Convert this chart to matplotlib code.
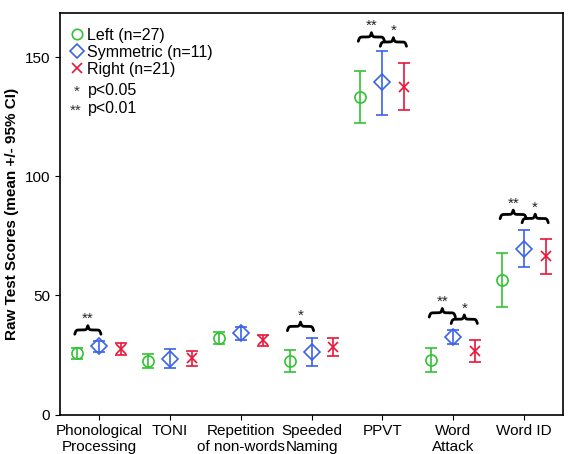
import numpy as np
import matplotlib
matplotlib.use('Agg')
import matplotlib.pyplot as plt
from matplotlib.lines import Line2D

plt.rcParams['font.family'] = ['Liberation Sans', 'DejaVu Sans']

tests = ['Phonological\nProcessing', 'TONI', 'Repetition\nof non-words', 'Speeded\nNaming',
         'PPVT', 'Word\nAttack', 'Word ID']

# mean, lower CI, upper CI per group
left_mean = [25.7, 22.6, 32.2, 22.6, 133.4, 22.7, 56.3]
left_lo = [23.3, 19.6, 29.7, 17.8, 122.4, 18.0, 45.0]
left_hi = [27.9, 25.4, 34.7, 27.2, 144.1, 27.8, 67.6]

sym_mean = [28.7, 23.4, 34.1, 26.4, 139.4, 32.6, 69.6]
sym_lo = [26.2, 19.4, 31.1, 20.4, 125.8, 29.7, 61.8]
sym_hi = [30.8, 27.4, 36.8, 32.2, 152.7, 35.5, 77.4]

right_mean = [27.5, 23.7, 31.3, 28.5, 137.6, 26.6, 66.5]
right_lo = [25.0, 20.4, 28.9, 24.4, 127.9, 21.9, 59.1]
right_hi = [30.1, 26.8, 33.5, 32.2, 147.5, 31.4, 73.6]

# significance brackets: (test index, from group, to group, bracket y, stars)
sig = [(0, 0, 1, 35.5, '**'), (3, 0, 1, 37.0, '*'),
       (4, 0, 1, 158.5, '**'), (4, 1, 2, 156.4, '*'),
       (5, 0, 1, 42.7, '**'), (5, 1, 2, 40.0, '*'),
       (6, 0, 1, 84.0, '**'), (6, 1, 2, 82.3, '*')]

green = '#33c233'
blue = '#3a63e8'
red = '#e8173a'
off = 0.31

fig = plt.figure(figsize=(5.7, 4.54), dpi=100)
ax = fig.add_axes([0.105, 0.087, 0.883, 0.884])

x = np.arange(len(tests))
groups = [(left_mean, left_lo, left_hi, green, 'o', 8, -off),
          (sym_mean, sym_lo, sym_hi, blue, 'D', 8, 0),
          (right_mean, right_lo, right_hi, red, 'x', 7, off)]
for m, lo, hi, c, mk, ms, dx in groups:
    m = np.array(m); lo = np.array(lo); hi = np.array(hi)
    ax.errorbar(x + dx, m, yerr=[m - lo, hi - m], fmt=mk, color=c, mfc='none',
                mec=c, ms=ms, mew=1.2, elinewidth=1.2, capsize=4, capthick=1.2)


def brace(ax, x0, x1, y, h=3.6):
    half = np.linspace(0, (x1 - x0) / 2, 100)
    beta = 40.0 / (x1 - x0)
    yh = 1 / (1 + np.exp(-beta * (half - half[0]))) + 1 / (1 + np.exp(-beta * (half - half[-1])))
    yy = np.concatenate((yh, yh[-2::-1]))
    xx = np.concatenate((x0 + half, x0 + half[-1] + half[1:]))
    yy = (yy - yy.min()) / (yy.max() - yy.min())
    ax.plot(xx, y - h / 2 + yy * h, color='black', lw=2.0, solid_capstyle='round')


for t, g0, g1, yb, st in sig:
    xs = [t - off, t, t + off]
    brace(ax, xs[g0] - 0.03, xs[g1] + 0.03, yb)
    ax.text((xs[g0] + xs[g1]) / 2, yb + 1.6, st, ha='center', va='bottom', fontsize=11,
            color='#222222')

ax.set_xlim(-0.55, 6.55)
ax.set_ylim(0, 168.5)
ax.set_yticks([0, 50, 100, 150])
ax.set_xticks(x)
ax.set_xticklabels(tests, fontsize=11)
ax.tick_params(axis='y', labelsize=11)
ax.set_ylabel('Raw Test Scores (mean +/- 95% CI)', fontsize=11, fontweight='bold')
for s in ax.spines.values():
    s.set_linewidth(1.2)

handles = [Line2D([], [], ls='none', marker='o', mfc='none', mec=green, ms=7.5, mew=1.2),
           Line2D([], [], ls='none', marker='D', mfc='none', mec=blue, ms=7.5, mew=1.2),
           Line2D([], [], ls='none', marker='x', color=red, ms=7, mew=1.2)]
ax.legend(handles, ['Left (n=27)', 'Symmetric (n=11)', 'Right (n=21)'], loc='upper left',
          frameon=False, fontsize=11.5, handlelength=0.6, handletextpad=0.3,
          labelspacing=0.12, borderaxespad=0.4, bbox_to_anchor=(0.0, 0.995))
ax.text(0.034, 0.805, '*', transform=ax.transAxes, fontsize=11, va='center', ha='center',
        color='#333333')
ax.text(0.056, 0.808, 'p<0.05', transform=ax.transAxes, fontsize=11.5, va='center')
ax.text(0.031, 0.758, '**', transform=ax.transAxes, fontsize=11, va='center', ha='center',
        color='#333333')
ax.text(0.056, 0.763, 'p<0.01', transform=ax.transAxes, fontsize=11.5, va='center')

fig.savefig('out.png', dpi=100)
